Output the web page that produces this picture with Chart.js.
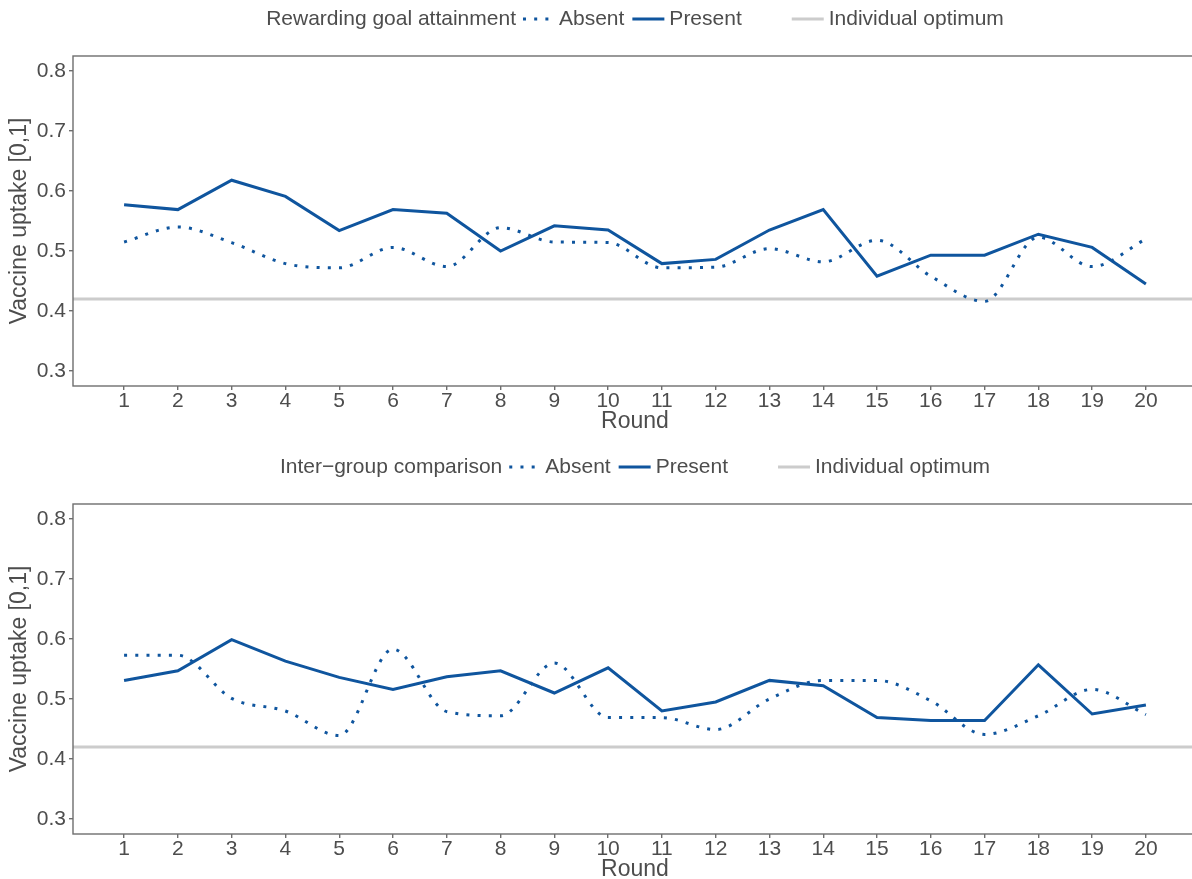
<!DOCTYPE html>
<html>
<head>
<meta charset="utf-8">
<script src="https://cdn.jsdelivr.net/npm/chart.js@4.4.1/dist/chart.umd.min.js"></script>
<style>
  html, body { margin: 0; padding: 0; background: #ffffff; overflow: hidden; }
  #wrap { position: relative; width: 1192px; height: 879px; overflow: hidden; }
  canvas { display: block; position: absolute; left: 0; }
  #rewardChart { top: 0; }
  #comparisonChart { top: 448px; }
</style>
</head>
<body>
<div id="wrap">
  <canvas id="rewardChart" width="1200" height="448"></canvas>
  <canvas id="comparisonChart" width="1200" height="448"></canvas>
</div>
<script>
// Rounds of the game
const rounds = [1, 2, 3, 4, 5, 6, 7, 8, 9, 10, 11, 12, 13, 14, 15, 16, 17, 18, 19, 20];

// Mean vaccine uptake per round, rewarding goal attainment treatment
const rewardAbsent  = [0.515, 0.540, 0.514, 0.479, 0.472, 0.506, 0.474, 0.539, 0.515, 0.514,
                       0.472, 0.473, 0.504, 0.482, 0.518, 0.458, 0.416, 0.523, 0.474, 0.520];
const rewardPresent = [0.577, 0.569, 0.618, 0.591, 0.534, 0.569, 0.563, 0.500, 0.542, 0.535,
                       0.479, 0.486, 0.535, 0.569, 0.458, 0.493, 0.493, 0.528, 0.506, 0.445];

// Mean vaccine uptake per round, inter-group comparison treatment
const comparisonAbsent  = [0.573, 0.573, 0.501, 0.480, 0.439, 0.583, 0.479, 0.472, 0.560, 0.469,
                           0.469, 0.449, 0.500, 0.531, 0.531, 0.497, 0.441, 0.472, 0.516, 0.474];
const comparisonPresent = [0.531, 0.547, 0.599, 0.563, 0.536, 0.516, 0.537, 0.547, 0.510, 0.552,
                           0.480, 0.495, 0.531, 0.522, 0.469, 0.464, 0.464, 0.557, 0.475, 0.490];

// Reference level and axis ticks
const individualOptimum = 0.42;
const yTicks = [0.3, 0.4, 0.5, 0.6, 0.7, 0.8];

// Text
const panelTitles = ['Rewarding goal attainment', 'Inter\u2212group comparison'];
const seriesLabels = ['Absent', 'Present'];
const optimumLabel = 'Individual optimum';
const xTitle = 'Round';
const yTitle = 'Vaccine uptake [0,1]';

const FONT = '"Liberation Sans", Arial, Helvetica, sans-serif';
const TEXT = '#4d4d4d';
const FRAME = '#6e6e6e';
const BLUE = '#0f559e';
const GREY = '#cccccc';
const DOTS = [3, 8.2];

// Panel frame, horizontal reference line and the inline legend
const panelDecor = {
  id: 'panelDecor',
  beforeDatasetsDraw(chart, args, opts) {
    const ctx = chart.ctx, a = chart.chartArea;
    const y = chart.scales.y.getPixelForValue(opts.optimum);
    ctx.save();
    ctx.strokeStyle = GREY;
    ctx.lineWidth = 3;
    ctx.beginPath();
    ctx.moveTo(a.left, y);
    ctx.lineTo(a.right, y);
    ctx.stroke();
    ctx.restore();
  },
  afterDraw(chart, args, opts) {
    const ctx = chart.ctx, a = chart.chartArea;
    ctx.save();
    ctx.strokeStyle = FRAME;
    ctx.lineWidth = 1.4;
    ctx.strokeRect(a.left, a.top, a.right - a.left, a.bottom - a.top);

    ctx.font = '21px ' + FONT;
    ctx.textBaseline = 'middle';
    ctx.fillStyle = TEXT;
    const keyW = 32;
    const parts = [
      { type: 'text', text: opts.title }, { type: 'gap', w: 7 },
      { type: 'key', dash: DOTS, color: BLUE }, { type: 'gap', w: 4 },
      { type: 'text', text: seriesLabels[0] }, { type: 'gap', w: 8 },
      { type: 'key', dash: [], color: BLUE }, { type: 'gap', w: 5 },
      { type: 'text', text: seriesLabels[1] }, { type: 'gap', w: 50 },
      { type: 'key', dash: [], color: GREY }, { type: 'gap', w: 5 },
      { type: 'text', text: optimumLabel }
    ];
    let total = 0;
    parts.forEach(p => {
      p.w = p.type === 'text' ? ctx.measureText(p.text).width : (p.type === 'key' ? keyW : p.w);
      total += p.w;
    });
    let x = (a.left + a.right) / 2 - total / 2;
    const cy = opts.legendY;
    parts.forEach(p => {
      if (p.type === 'text') {
        ctx.fillText(p.text, x, cy);
      } else if (p.type === 'key') {
        ctx.save();
        ctx.strokeStyle = p.color;
        ctx.lineWidth = 3;
        ctx.lineCap = 'butt';
        ctx.setLineDash(p.dash);
        ctx.beginPath();
        ctx.moveTo(x, cy);
        ctx.lineTo(x + keyW, cy);
        ctx.stroke();
        ctx.restore();
      }
      x += p.w;
    });
    ctx.restore();
  }
};

function makeChart(canvasId, title, absent, present) {
  return new Chart(document.getElementById(canvasId), {
    type: 'line',
    data: {
      datasets: [
        {
          label: seriesLabels[0],
          data: rounds.map((r, i) => ({ x: r, y: absent[i] })),
          borderColor: BLUE,
          borderWidth: 3,
          borderDash: DOTS,
          borderCapStyle: 'butt',
          cubicInterpolationMode: 'monotone',
          pointRadius: 0,
          fill: false
        },
        {
          label: seriesLabels[1],
          data: rounds.map((r, i) => ({ x: r, y: present[i] })),
          borderColor: BLUE,
          borderWidth: 3,
          borderJoinStyle: 'miter',
          tension: 0,
          pointRadius: 0,
          fill: false
        }
      ]
    },
    options: {
      responsive: false,
      animation: false,
      devicePixelRatio: 1,
      layout: { padding: { left: 0, right: 3, top: 56, bottom: 0 } },
      plugins: {
        legend: { display: false },
        tooltip: { enabled: false },
        panelDecor: { title: title, legendY: 19, optimum: individualOptimum }
      },
      scales: {
        x: {
          type: 'linear',
          min: 0.05,
          max: 20.95,
          afterBuildTicks: s => { s.ticks = rounds.map(v => ({ value: v })); },
          afterFit: s => { s.height = 62; },
          grid: { display: true, drawOnChartArea: false, drawTicks: true, tickLength: 4, color: FRAME, lineWidth: 1.4 },
          border: { display: false },
          ticks: {
            color: TEXT, font: { family: FONT, size: 21, lineHeight: 1 }, padding: 1,
            autoSkip: false, maxRotation: 0, callback: v => String(v)
          },
          title: {
            display: true, text: xTitle, color: TEXT,
            font: { family: FONT, size: 23, lineHeight: 1.2 }, padding: { top: 0, bottom: 13 }
          }
        },
        y: {
          type: 'linear',
          min: 0.275,
          max: 0.825,
          afterBuildTicks: s => { s.ticks = yTicks.map(v => ({ value: v })); },
          afterFit: s => { s.width = 73; },
          grid: { display: true, drawOnChartArea: false, drawTicks: true, tickLength: 4, color: FRAME, lineWidth: 1.4 },
          border: { display: false },
          ticks: {
            color: TEXT, font: { family: FONT, size: 21, lineHeight: 1 }, padding: 3,
            callback: v => v.toFixed(1)
          },
          title: {
            display: true, text: yTitle, color: TEXT,
            font: { family: FONT, size: 23, lineHeight: 1.2 }, padding: { top: 6, bottom: 0 }
          }
        }
      }
    },
    plugins: [panelDecor]
  });
}

makeChart('rewardChart', panelTitles[0], rewardAbsent, rewardPresent);
makeChart('comparisonChart', panelTitles[1], comparisonAbsent, comparisonPresent);
</script>
</body>
</html>
